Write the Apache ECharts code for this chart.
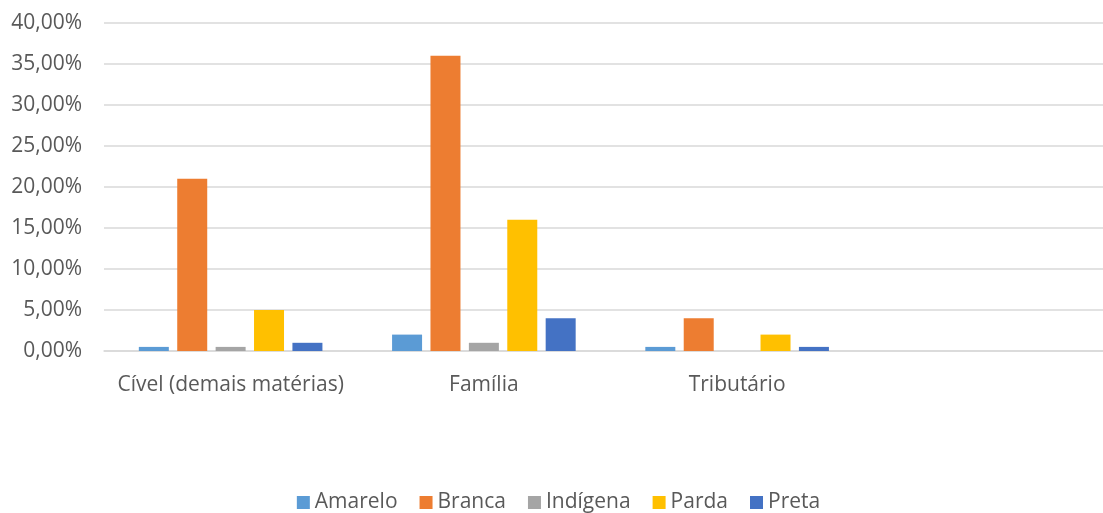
<!DOCTYPE html>
<html>
<head>
<meta charset="utf-8">
<script src="https://cdn.jsdelivr.net/npm/echarts@6/dist/echarts.min.js"></script>
<style>
  html, body { margin: 0; padding: 0; background: #fff; overflow: hidden; }
  /* a bit wider than the window: the plot area runs past the right edge */
  #chart { width: 1117px; height: 513px; }
</style>
</head>
<body>
<div id="chart"></div>
<script>
// the 4th slot is empty in the original chart
const categories = ["Cível (demais matérias)", "Família", "Tributário", ""];
const amarelo = [0.5, 2, 0.5, null];
const branca = [21, 36, 4, null];
const indigena = [0.5, 1, 0, null];
const parda = [5, 16, 2, null];
const preta = [1, 4, 0.5, null];

const fontFamily = "'Open Sans', sans-serif";
const textColor = "#595959";

const chart = echarts.init(document.getElementById("chart"));

const mk = (name, data, color) => ({
  name,
  type: "bar",
  data,
  barWidth: 30,
  barGap: "28%",
  itemStyle: { color },
});

chart.setOption({
  animation: false,
  textStyle: { fontFamily },
  grid: { left: 104, right: 0, top: 23, bottom: 162 },
  legend: {
    top: 487,
    left: "center",
    itemWidth: 13,
    itemHeight: 13,
    itemGap: 22,
    icon: "rect",
    textStyle: { fontSize: 21, color: textColor, fontFamily },
    data: ["Amarelo", "Branca", "Indígena", "Parda", "Preta"],
  },
  xAxis: {
    type: "category",
    data: categories,
    axisLine: { lineStyle: { color: "#d9d9d9", width: 1.5 } },
    axisTick: { show: false },
    axisLabel: { fontSize: 21, color: textColor, margin: 24, interval: 0, fontFamily },
  },
  yAxis: {
    type: "value",
    min: 0,
    max: 40,
    interval: 5,
    axisLine: { show: false },
    axisTick: { show: false },
    splitLine: { lineStyle: { color: "#d9d9d9", width: 1.5 } },
    axisLabel: {
      fontSize: 21,
      color: textColor,
      margin: 22,
      fontFamily,
      formatter: (v) => v.toFixed(2).replace(".", ",") + "%",
    },
  },
  series: [
    mk("Amarelo", amarelo, "#5B9BD5"),
    mk("Branca", branca, "#ED7D31"),
    mk("Indígena", indigena, "#A5A5A5"),
    mk("Parda", parda, "#FFC000"),
    mk("Preta", preta, "#4472C4"),
  ],
});
</script>
</body>
</html>
